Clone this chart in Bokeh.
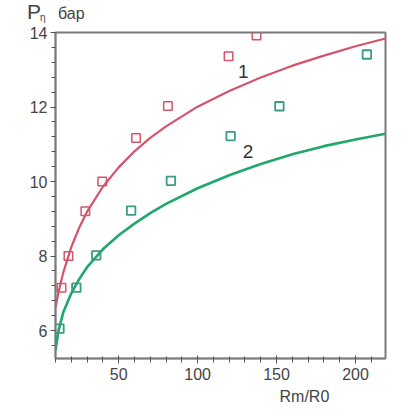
from bokeh.plotting import figure
from bokeh.models import Label, Range1d, SingleIntervalTicker, Title, Div
from bokeh.layouts import column
from bokeh.embed import file_html
from bokeh.resources import INLINE

red_pts_x = [13.8, 18.2, 28.9, 39.6, 61.0, 81.2, 119.6, 137.3]
red_pts_y = [7.15, 8.0, 9.2, 10.0, 11.17, 12.03, 13.36, 13.92]
green_pts_x = [12.5, 23.2, 35.8, 57.9, 83.1, 120.9, 151.8, 207.2]
green_pts_y = [6.05, 7.15, 8.02, 9.22, 10.02, 11.22, 12.02, 13.41]

# curves
red_curve_x = [10, 12, 15, 20, 25, 30, 40, 50, 60, 70, 80, 100, 120, 140, 160, 180, 200, 219]
red_curve_y = [6.62, 7.04, 7.57, 8.24, 8.76, 9.19, 9.86, 10.38, 10.81, 11.17, 11.48, 12.01, 12.43, 12.79, 13.11, 13.38, 13.63, 13.84]
green_curve_x = [10, 12, 15, 20, 25, 30, 40, 50, 60, 70, 80, 100, 120, 140, 160, 180, 200, 219]
green_curve_y = [5.47, 6.02, 6.5, 7.0, 7.38, 7.7, 8.18, 8.56, 8.87, 9.15, 9.4, 9.82, 10.17, 10.47, 10.73, 10.95, 11.13, 11.28]

curve_labels = ["1", "2"]
curve_label_x = [129.0, 132.0]
curve_label_y = [12.96, 10.8]

RED = "#d4546c"
GREEN = "#1fa86a"
GREEN_PT = "#3a9c82"
AX = "#7a7a7a"
TXT = "#444444"

header = Div(
    text=(
        '<div style="position:relative;width:419px;height:24px;'
        'font-family:\'Liberation Sans\',Arial,sans-serif;color:#444444;">'
        '<span style="position:absolute;left:27px;top:0px;font-size:21px;line-height:24px;">P</span>'
        '<span style="position:absolute;left:40px;top:11px;font-size:10px;line-height:14px;">η</span>'
        '<span style="position:absolute;left:58px;top:4px;font-size:16px;line-height:20px;">бар</span>'
        '</div>'
    ),
    width=419, height=24, margin=0,
)

p = figure(width=419, height=388, output_backend="svg", toolbar_location=None,
           x_range=Range1d(10, 219), y_range=Range1d(5.25, 14.0),
           min_border_left=55, min_border_top=8, min_border_right=34, min_border_bottom=54,
           margin=0)
p.xgrid.visible = False
p.ygrid.visible = False
p.outline_line_color = AX
p.outline_line_width = 2
p.background_fill_color = "white"
p.border_fill_color = "white"

p.line(red_curve_x, red_curve_y, line_color=RED, line_width=2.2)
p.line(green_curve_x, green_curve_y, line_color=GREEN, line_width=2.6)
p.scatter(red_pts_x, red_pts_y, marker="square", size=8.5, fill_color=None, line_color=RED, line_width=1.5)
p.scatter(green_pts_x, green_pts_y, marker="square", size=8.5, fill_color=None, line_color=GREEN_PT, line_width=1.8)

p.xaxis.ticker = SingleIntervalTicker(interval=50, num_minor_ticks=5)
p.yaxis.ticker = SingleIntervalTicker(interval=2, num_minor_ticks=5)
for ax in (p.xaxis, p.yaxis):
    ax.axis_line_color = AX
    ax.axis_line_width = 1.5
    ax.major_tick_line_color = "#555555"
    ax.minor_tick_line_color = "#555555"
    ax.major_label_text_font = "Liberation Sans"
    ax.major_label_text_font_size = "16px"
    ax.major_label_text_color = TXT
p.xaxis.major_tick_in = 3
p.xaxis.major_tick_out = 5
p.xaxis.minor_tick_in = 2
p.xaxis.minor_tick_out = 4
p.xaxis.major_label_standoff = 4
p.yaxis.major_tick_in = 0
p.yaxis.major_tick_out = 5
p.yaxis.minor_tick_in = 0
p.yaxis.minor_tick_out = 4
p.yaxis.major_label_standoff = 3

for t, lx, ly in zip(curve_labels, curve_label_x, curve_label_y):
    p.add_layout(Label(x=lx, y=ly, text=t, text_font="Liberation Sans", text_font_size="19px",
                       text_color="#333333", text_align="center", text_baseline="middle"))

p.add_layout(Title(text="Rm/R0", align="left", offset=224, standoff=6,
                   text_font="Liberation Sans", text_font_size="16px",
                   text_font_style="normal", text_color=TXT), "below")

layout = column(header, p, spacing=0, margin=0)
open("out.html", "w").write(file_html(layout, INLINE))
